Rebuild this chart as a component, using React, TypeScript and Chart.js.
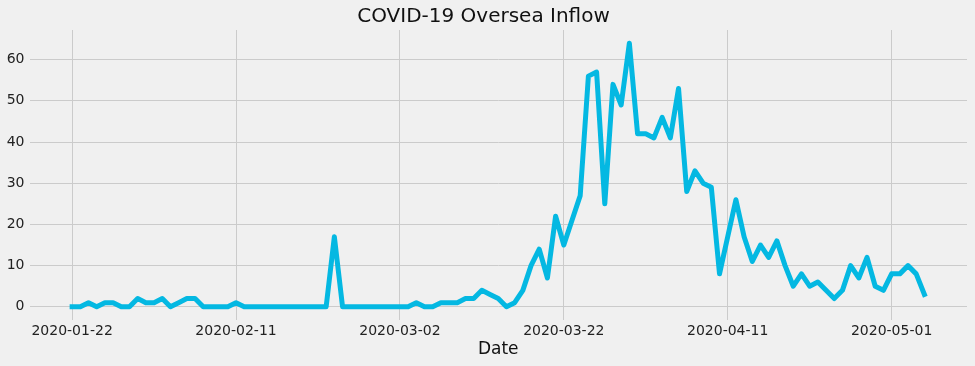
import React, { useEffect, useRef } from "react";
import { Chart, registerables } from "chart.js";

Chart.register(...registerables);

const startDate = "2020-01-22";
const tickDays = [0, 20, 40, 60, 80, 100];
const tickLabels = ["2020-01-22", "2020-02-11", "2020-03-02", "2020-03-22", "2020-04-11", "2020-05-01"];
const yTicks = [0, 10, 20, 30, 40, 50, 60];

// daily oversea inflow cases, one value per day starting 2020-01-22
const inflow = [
  0, 0, 1, 0, 1, 1, 0, 0, 2, 1,
  1, 2, 0, 1, 2, 2, 0, 0, 0, 0,
  1, 0, 0, 0, 0, 0, 0, 0, 0, 0,
  0, 0, 17, 0, 0, 0, 0, 0, 0, 0,
  0, 0, 1, 0, 0, 1, 1, 1, 2, 2,
  4, 3, 2, 0, 1, 4, 10, 14, 7, 22,
  15, 21, 27, 56, 57, 25, 54, 49, 64, 42,
  42, 41, 46, 41, 53, 28, 33, 30, 29, 8,
  17, 26, 17, 11, 15, 12, 16, 10, 5, 8,
  5, 6, 4, 2, 4, 10, 7, 12, 5, 4,
  8, 8, 10, 8, 3,
];

export default function App() {
  const ref = useRef<HTMLCanvasElement | null>(null);

  useEffect(() => {
    if (!ref.current) return;
    const n = inflow.length;
    const span = n - 1;
    const margin = span * 0.05;
    const yMax = Math.max(...inflow);
    const yMargin = yMax * 0.05;
    const points = inflow.map((v, i) => ({ x: i, y: v }));
    const font = "'DejaVu Sans', sans-serif";

    const bgPlugin = {
      id: "bg",
      beforeDraw(chart: any) {
        const { ctx, width, height } = chart;
        ctx.save();
        ctx.fillStyle = "#f0f0f0";
        ctx.fillRect(0, 0, width, height);
        ctx.restore();
      },
    };

    const chart = new Chart(ref.current, {
      type: "line",
      data: {
        datasets: [
          {
            label: "Oversea Inflow (" + startDate + ")",
            data: points,
            borderColor: "#04b8e2",
            borderWidth: 5,
            pointRadius: 0,
            tension: 0,
            borderJoinStyle: "round",
            borderCapStyle: "square",
            fill: false,
          },
        ],
      },
      options: {
        responsive: false,
        animation: false,
        devicePixelRatio: 1,
        layout: { padding: { left: 0, right: 8, top: 0, bottom: 0 } },
        plugins: {
          legend: { display: false },
          tooltip: { enabled: false },
          title: {
            display: true,
            text: "COVID-19 Oversea Inflow",
            color: "#111",
            font: { family: font, size: 20, weight: "normal" },
            padding: { top: 5, bottom: 1 },
          },
        },
        scales: {
          x: {
            type: "linear",
            min: -margin,
            max: span + margin,
            afterBuildTicks(scale: any) {
              scale.ticks = tickDays.map((v) => ({ value: v }));
            },
            afterFit(scale: any) {
              scale.height = 46;
            },
            ticks: {
              autoSkip: false,
              maxRotation: 0,
              padding: 3,
              color: "#222",
              font: { family: font, size: 14 },
              callback: (v: any) => {
                const idx = tickDays.indexOf(Number(v));
                return idx >= 0 ? tickLabels[idx] : "";
              },
            },
            grid: { color: "#cbcbcb", lineWidth: 1, drawTicks: false },
            border: { display: false },
            title: {
              display: true,
              text: "Date",
              color: "#111",
              font: { family: font, size: 17 },
              padding: { top: 0, bottom: 6 },
            },
          },
          y: {
            type: "linear",
            min: -yMargin,
            max: yMax + yMargin,
            afterBuildTicks(scale: any) {
              scale.ticks = yTicks.map((v) => ({ value: v }));
            },
            afterFit(scale: any) {
              scale.width = 29.5;
            },
            ticks: {
              padding: 5,
              color: "#222",
              font: { family: font, size: 14 },
            },
            grid: { color: "#cbcbcb", lineWidth: 1, drawTicks: false },
            border: { display: false },
          },
        },
      },
      plugins: [bgPlugin],
    });
    return () => chart.destroy();
  }, []);

  return (
    <div style={{ position: "fixed", left: 0, top: 0, width: 975, height: 366, background: "#f0f0f0" }}>
      <canvas ref={ref} width={975} height={366} style={{ width: 975, height: 366, display: "block" }} />
    </div>
  );
}
